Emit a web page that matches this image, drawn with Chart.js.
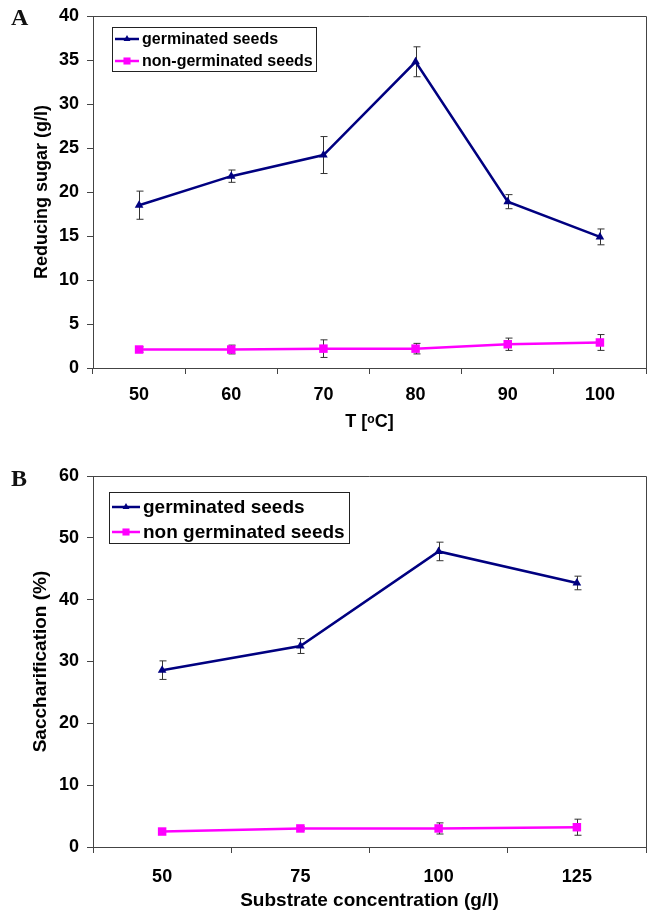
<!DOCTYPE html>
<html>
<head>
<meta charset="utf-8">
<script src="https://cdn.jsdelivr.net/npm/chart.js@4"></script>
<style>
body{margin:0;background:#fff;width:653px;height:911px;position:relative;overflow:hidden;font-family:"Liberation Sans",Arial,sans-serif}
canvas{position:absolute;left:0}
#chartA{top:-3px}
#chartB{top:455px}
.tag{position:absolute;font:bold 24px "Liberation Serif","Times New Roman",serif;color:#111}
</style>
</head>
<body>
<canvas id="chartA" width="653" height="448"></canvas>
<canvas id="chartB" width="653" height="456"></canvas>
<div class="tag" style="left:11px;top:4px">A</div>
<div class="tag" style="left:11px;top:465px">B</div>
<script>
// Panel A - temperature
const tempLabels=['50','60','70','80','90','100'];
const germA=[18.5,21.8,24.2,34.8,18.9,14.9];
const germAErr=[1.6,0.7,2.1,1.7,0.8,0.9];
const nonGermA=[2.1,2.1,2.2,2.2,2.7,2.9];
const nonGermAErr=[0.3,0.5,1.0,0.6,0.7,0.9];
// Panel B - substrate concentration
const concLabels=['50','75','100','125'];
const germB=[28.6,32.5,47.8,42.7];
const germBErr=[1.5,1.2,1.5,1.1];
const nonGermB=[2.5,3.0,3.0,3.2];
const nonGermBErr=[0,0.3,0.9,1.3];

const NAVY='#000080', MAG='#ff00ff', AXIS='#444';
const FONT='"Liberation Sans", Arial, sans-serif';

// error bars drawn through the y scale
const errorBars={
  id:'errorBars',
  beforeDatasetsDraw(chart){
    const ctx=chart.ctx, y=chart.scales.y;
    ctx.save(); ctx.strokeStyle='#333'; ctx.lineWidth=1;
    chart.data.datasets.forEach((ds,di)=>{
      const meta=chart.getDatasetMeta(di);
      (ds.err||[]).forEach((e,i)=>{
        if(!e) return;
        const x=Math.round(meta.data[i].x)+0.5;
        const t=y.getPixelForValue(ds.data[i]+e), b=y.getPixelForValue(ds.data[i]-e);
        ctx.beginPath();
        ctx.moveTo(x,t); ctx.lineTo(x,b);
        ctx.moveTo(x-3,t); ctx.lineTo(x+4,t);
        ctx.moveTo(x-3,b); ctx.lineTo(x+4,b);
        ctx.stroke();
      });
    });
    ctx.restore();
  }
};

// top and right frame lines
const frame={
  id:'frame',
  afterDraw(chart){
    const a=chart.chartArea, ctx=chart.ctx;
    ctx.save(); ctx.strokeStyle=AXIS; ctx.lineWidth=1;
    ctx.beginPath();
    ctx.moveTo(Math.round(a.left),Math.round(a.top)+0.5);
    ctx.lineTo(Math.round(a.right)+0.5,Math.round(a.top)+0.5);
    ctx.lineTo(Math.round(a.right)+0.5,Math.round(a.bottom));
    ctx.stroke(); ctx.restore();
  }
};

// boxed legend inside the plot
const boxLegend={
  id:'boxLegend',
  afterDraw(chart,args,o){
    const a=chart.chartArea, ctx=chart.ctx;
    const bx=a.left+o.x, by=a.top+o.y;
    ctx.save();
    ctx.fillStyle='#fff'; ctx.fillRect(bx,by,o.w,o.h);
    ctx.strokeStyle='#222'; ctx.lineWidth=1;
    ctx.strokeRect(Math.round(bx)+0.5,Math.round(by)+0.5,o.w,o.h);
    chart.data.datasets.forEach((ds,i)=>{
      const cy=by+o.row0+i*o.rowH;
      ctx.strokeStyle=ds.borderColor; ctx.lineWidth=2.5;
      ctx.beginPath(); ctx.moveTo(bx+3,cy); ctx.lineTo(bx+3+o.line,cy); ctx.stroke();
      ctx.fillStyle=ds.borderColor;
      Chart.helpers.drawPoint(ctx,{pointStyle:ds.pointStyle,radius:ds.pointRadius-1,rotation:0,borderWidth:0},bx+3+o.line/2,cy);
      ctx.fillStyle='#000'; ctx.font='bold '+o.size+'px '+FONT; ctx.textBaseline='middle';
      ctx.fillText(ds.label,bx+6+o.line,cy+1);
    });
    ctx.restore();
  }
};

function makeChart(id,labels,sets,yMax,step,yTitle,xTitle,pad,yW,xH,lg,sz){
  return new Chart(document.getElementById(id),{
    type:'line',
    data:{labels:labels,datasets:sets.map(s=>({
      label:s.label,data:s.data,err:s.err,borderColor:s.color,backgroundColor:s.color,
      borderWidth:2.5,pointStyle:s.style,pointRadius:s.r,pointBorderWidth:0,tension:0
    }))},
    options:{
      responsive:false,animation:false,devicePixelRatio:1,
      layout:{padding:pad},
      plugins:{legend:{display:false},tooltip:{enabled:false},boxLegend:lg},
      scales:{
        x:{
          offset:true,
          grid:{offset:true,drawOnChartArea:false,drawTicks:true,tickLength:6,color:AXIS},
          border:{display:true,color:AXIS},
          ticks:{color:'#000',font:{family:FONT,size:18,weight:'bold'},padding:sz.xpad},
          title:{display:true,text:xTitle,color:'#000',font:{family:FONT,size:sz.title,weight:'bold',lineHeight:1},padding:{top:0,bottom:sz.tpad}},
          afterFit(s){s.height=xH;}
        },
        y:{
          min:0,max:yMax,
          grid:{drawOnChartArea:false,drawTicks:true,tickLength:6,color:AXIS},
          border:{display:true,color:AXIS},
          ticks:{stepSize:step,color:'#000',font:{family:FONT,size:18,weight:'bold'},padding:8},
          title:{display:true,text:yTitle,color:'#000',font:{family:FONT,size:sz.title,weight:'bold',lineHeight:1},padding:0},
          afterFit(s){s.width=yW;}
        }
      }
    },
    plugins:[errorBars,frame,boxLegend]
  });
}

makeChart('chartA',tempLabels,[
  {label:'germinated seeds',data:germA,err:germAErr,color:NAVY,style:'triangle',r:5},
  {label:'non-germinated seeds',data:nonGermA,err:nonGermAErr,color:MAG,style:'rect',r:6}
],40,5,'Reducing sugar (g/l)','T [\u1d52C]',
{top:19,right:7,left:33,bottom:14},60,63,
{x:19,y:11,w:204,h:44,row0:12,rowH:22,line:24,size:16},
{title:18,xpad:10,tpad:0});

makeChart('chartB',concLabels,[
  {label:'germinated seeds',data:germB,err:germBErr,color:NAVY,style:'triangle',r:5},
  {label:'non germinated seeds',data:nonGermB,err:nonGermBErr,color:MAG,style:'rect',r:6}
],60,10,'Saccharification (%)','Substrate concentration (g/l)',
{top:21,right:7,left:31,bottom:0},62,64,
{x:16,y:16,w:240,h:51,row0:15,rowH:25,line:28,size:19},
{title:19,xpad:13,tpad:0.5});
</script>
</body>
</html>
